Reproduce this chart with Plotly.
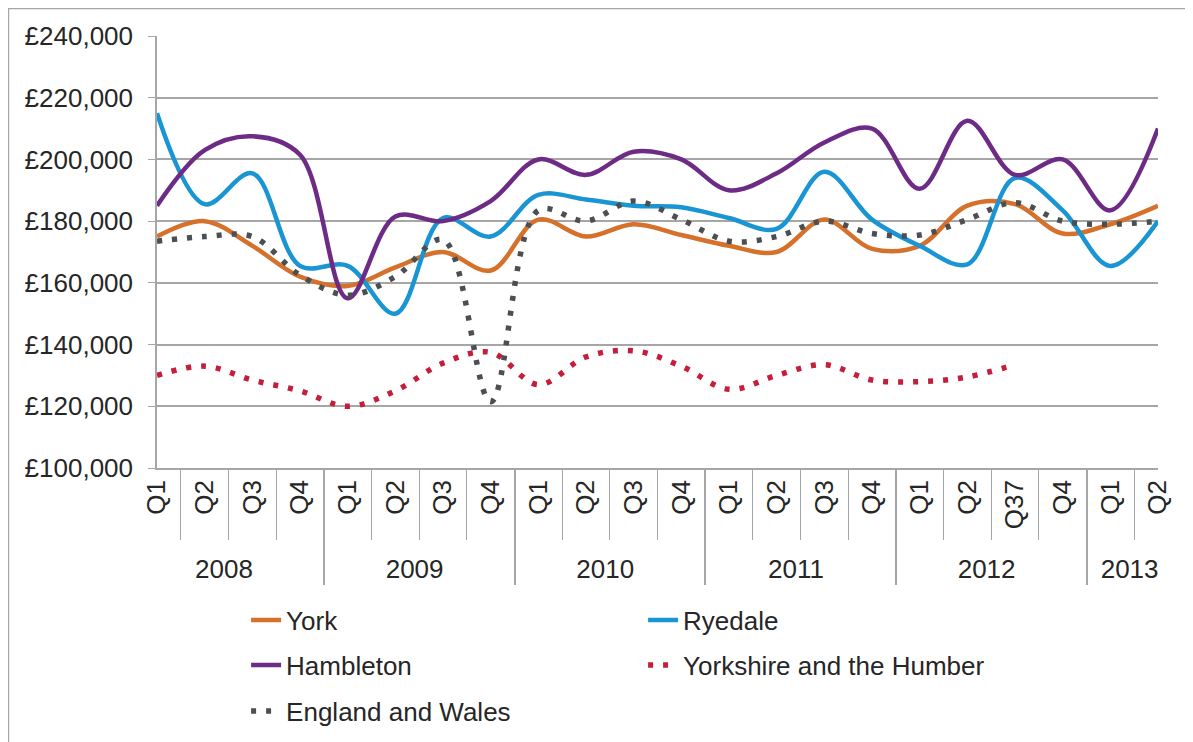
import plotly.graph_objects as go

years = ["2008"] * 4 + ["2009"] * 4 + ["2010"] * 4 + ["2011"] * 4 + ["2012"] * 4 + ["2013"] * 2
quarters = ["Q1", "Q2", "Q3", "Q4"] * 4 + ["Q1", "Q2", "Q37", "Q4"] + ["Q1", "Q2"]

# order in which the two category levels are first met (keeps "Q37" before "Q4")
order_years = ["2008", "2009", "2010", "2011", "2012", "2013", "2008", "2008", "2012", "2008"]
order_quarters = ["Q1", "Q1", "Q1", "Q1", "Q1", "Q1", "Q2", "Q3", "Q37", "Q4"]

york = [175000, 180000, 172000, 162000, 159000, 165000, 170000, 164000, 180500, 175000, 179000,
        175500, 172000, 170000, 180500, 171000, 172000, 185000, 185500, 176000, 179000, 185000]
ryedale = [215000, 185500, 195500, 165500, 165500, 150000, 181000, 175000, 188500, 187000, 185000,
           184500, 181000, 177500, 196000, 180500, 172000, 166000, 194000, 183500, 165500, 180000]
hambleton = [185000, 203000, 207500, 201500, 155000, 181500, 180000, 186500, 200000, 195000, 202500,
             200000, 190000, 195500, 205500, 210000, 190500, 212500, 195000, 200000, 183500, 210000]
yorkshire = [130000, 133000, 128500, 125000, 120000, 125000, 134000, 137500, 127000, 136000, 138000,
             133000, 125500, 130000, 133500, 128500, 128000, 129500, 133500, None, None, None]
england = [173500, 175000, 175000, 162500, 156000, 162000, 174000, 121500, 183500, 180000, 186500,
           180500, 173500, 175000, 180000, 176000, 175500, 180500, 186000, 180000, 179000, 180000]

y_ticks = [100000, 120000, 140000, 160000, 180000, 200000, 220000, 240000]
y_labels = ["£{:,}".format(v) for v in y_ticks]

series = [
    ("York", york, "#D5712B", "solid", 4.5, "legend"),
    ("Ryedale", ryedale, "#1A95D3", "solid", 4.5, "legend"),
    ("Hambleton", hambleton, "#6E2B85", "solid", 4.5, "legend2"),
    ("Yorkshire and the Humber", yorkshire, "#C41E3A", "5px,10px", 5.5, "legend2"),
    ("England and Wales", england, "#4B4F52", "5px,10px", 5.5, "legend3"),
]

fig = go.Figure()
fig.add_trace(go.Scatter(x=[order_years, order_quarters], y=[None] * len(order_years),
                         mode="lines", showlegend=False, hoverinfo="skip"))
for name, vals, color, dash, width, leg in series:
    fig.add_trace(go.Scatter(
        x=[years, quarters], y=vals, name=name, mode="lines", legend=leg,
        line=dict(color=color, width=width, dash=dash, shape="spline", smoothing=1.0),
    ))

grid = "#A6A6A6"
text_col = "#262626"
leg_common = dict(orientation="h", x=0.089, xanchor="left", yanchor="middle",
                  entrywidth=352, font=dict(size=26, color=text_col), bgcolor="rgba(0,0,0,0)")

fig.update_layout(
    width=1185, height=780,
    margin=dict(l=149, r=35, t=28, b=320),
    paper_bgcolor="white", plot_bgcolor="white",
    font=dict(family="Liberation Sans, Arial, sans-serif", size=26, color=text_col),
    showlegend=True,
    legend=dict(y=-0.352, **leg_common),
    legend2=dict(y=-0.456, **leg_common),
    legend3=dict(y=-0.563, **leg_common),
    xaxis=dict(
        type="multicategory", showline=True, linecolor=grid, linewidth=1.5,
        showgrid=False, ticks="outside", tickson="boundaries", ticklen=70, tickcolor=grid,
        tickangle=-90, showdividers=True, dividercolor=grid, dividerwidth=1.5,
        automargin=False,
    ),
    yaxis=dict(
        range=[100000, 240000], tickvals=y_ticks, ticktext=y_labels,
        showgrid=True, gridcolor=grid, gridwidth=1.5,
        showline=True, linecolor=grid, linewidth=1.5,
        ticks="outside", ticklen=7, tickcolor=grid, zeroline=False,
        ticklabelstandoff=10, automargin=False,
    ),
    shapes=[dict(type="rect", xref="paper", yref="paper", x0=-0.1484, x1=1.030, y0=-0.70, y1=1.0637,
                 line=dict(color=grid, width=1.5), fillcolor="rgba(0,0,0,0)", layer="below")],
)

fig.write_html("out.html")
